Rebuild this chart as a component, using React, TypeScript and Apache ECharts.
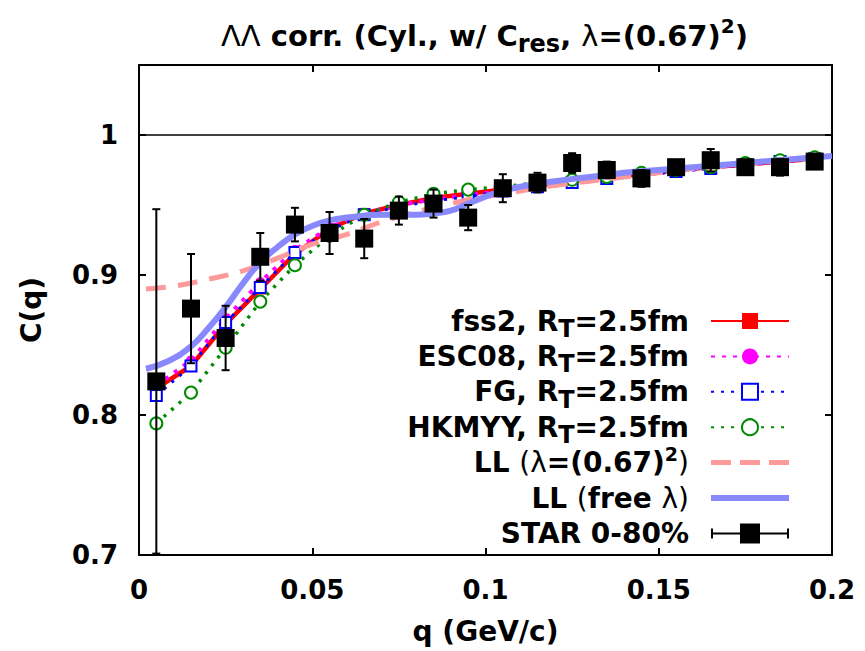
import React, { useEffect, useRef } from 'react';
import * as echarts from 'echarts';

const FONT = 'DejaVu Sans';

// q bin centres (GeV/c)
const qBins = [0.005, 0.015, 0.025, 0.035, 0.045, 0.055, 0.065, 0.075, 0.085, 0.095,
  0.105, 0.115, 0.125, 0.135, 0.145, 0.155, 0.165, 0.175, 0.185, 0.195];

// STAR 0-80% data
const starC = [0.824, 0.876, 0.855, 0.913, 0.936, 0.930, 0.926, 0.946, 0.951, 0.941,
  0.962, 0.966, 0.980, 0.975, 0.969, 0.977, 0.982, 0.977, 0.977, 0.981];
const starErr = [0.123, 0.039, 0.023, 0.017, 0.012, 0.015, 0.014, 0.010, 0.010, 0.009,
  0.010, 0.007, 0.007, 0.006, 0.006, 0.005, 0.008, 0.005, 0.006, 0.005];

// model curves (same q grid)
const fss2 = [0.819, 0.835, 0.865, 0.890, 0.915, 0.933, 0.944, 0.950, 0.955, 0.958,
  0.961, 0.964, 0.967, 0.970, 0.972, 0.975, 0.977, 0.979, 0.981, 0.983];
const esc08 = [0.821, 0.839, 0.869, 0.895, 0.918, 0.934, 0.944, 0.950, 0.954, 0.957,
  0.960, 0.963, 0.966, 0.969, 0.972, 0.974, 0.977, 0.979, 0.981, 0.983];
const fg = [0.814, 0.835, 0.866, 0.891, 0.916, 0.932, 0.943, 0.949, 0.953, 0.956,
  0.960, 0.963, 0.966, 0.969, 0.971, 0.974, 0.976, 0.979, 0.981, 0.983];
const hkmyy = [0.794, 0.816, 0.848, 0.881, 0.907, 0.928, 0.943, 0.952, 0.958, 0.961,
  0.963, 0.966, 0.968, 0.970, 0.973, 0.975, 0.977, 0.980, 0.982, 0.984];

// Lednicky-Lyuboshitz fits
const llQ = [0.002, 0.01, 0.02, 0.03, 0.04, 0.05, 0.06, 0.07, 0.08, 0.09, 0.1,
  0.11, 0.12, 0.13, 0.14, 0.15, 0.16, 0.17, 0.18, 0.19, 0.2];
const llFixed = [0.890, 0.892, 0.897, 0.903, 0.912, 0.922, 0.929, 0.938, 0.945, 0.951, 0.956,
  0.960, 0.964, 0.967, 0.970, 0.973, 0.976, 0.978, 0.980, 0.982, 0.984];
const llFreeQ = [0.002, 0.008, 0.015, 0.02, 0.025, 0.03, 0.035, 0.04, 0.045, 0.05, 0.055,
  0.06, 0.07, 0.08, 0.085, 0.09, 0.095, 0.1, 0.105, 0.11, 0.12, 0.13, 0.14, 0.15,
  0.16, 0.17, 0.18, 0.19, 0.2];
const llFree = [0.833, 0.838, 0.849, 0.862, 0.877, 0.894, 0.909, 0.920, 0.929, 0.935, 0.939,
  0.941, 0.943, 0.943, 0.944, 0.946, 0.951, 0.956, 0.960, 0.963, 0.967, 0.970, 0.973, 0.975,
  0.977, 0.979, 0.981, 0.983, 0.985];

const yTickLabels = [0.7, 0.8, 0.9, 1];
const unityLine = 1;

const seriesNames = [
  'fss2, RT=2.5fm',
  'ESC08, RT=2.5fm',
  'FG, RT=2.5fm',
  'HKMYY, RT=2.5fm',
  'LL (λ=(0.67)^2)',
  'LL (free λ)',
  'STAR 0-80%',
];
// every row carries one "p" token (transparent box) so that all rows get the same height
const legendRich = [
  '{p|f}ss2, R{T|T}=2.5fm',
  '{p|E}SC08, R{T|T}=2.5fm',
  '{p|F}G, R{T|T}=2.5fm',
  '{p|H}KMYY, R{T|T}=2.5fm',
  '{p|L}L {t|(λ}=(0.67){sup|2}{t|)}',
  '{p|L}L {t|(}free {t|λ)}',
  '{p|S}TAR 0-80%',
];

const zip = (xs: number[], ys: number[]) => xs.map((x, i) => [x, ys[i]]);

export default function App() {
  const ref = useRef<HTMLDivElement>(null);
  useEffect(() => {
    const chart = echarts.init(ref.current!, null, { renderer: 'svg' });
    const base = { fontFamily: FONT, fontWeight: 'bold' as const, color: '#000' };
    const legendIcons: Record<string, string> = {
      'LL (λ=(0.67)^2)': 'path://M0 0H20V5H0Z M29 0H49V5H29Z M58 0H78V5H58Z',
      'LL (free λ)': 'path://M0 0H78V6H0Z',
      'STAR 0-80%': 'path://M0 9H78V11H0Z M0 5H2V15H0Z M76 5H78V15H76Z M29 0H49V20H29Z',
    };
    const option: any = {
      animation: false,
      backgroundColor: '#fff',
      title: {
        left: 216,
        top: 14,
        text: '{g|ΛΛ} corr. (Cyl., w/ C{sub|res}, {g|λ}=(0.67){sup|2})',
        textStyle: {
          ...base, fontSize: 29, lineHeight: 34,
          rich: {
            g: { fontFamily: FONT, fontWeight: 'normal', fontSize: 29, lineHeight: 34, color: '#000' },
            sub: { ...base, fontSize: 24, lineHeight: 34, height: 4, padding: [16, 0, 0, 0] },
            sup: { ...base, fontSize: 20, lineHeight: 34, height: 4, padding: [0, 0, 20, 0] },
          },
        },
      },
      grid: { left: 139, right: 33, top: 65, bottom: 96 },
      legend: {
        orient: 'vertical',
        align: 'right',
        right: 75,
        top: 292,
        padding: 0,
        itemGap: -22.6,
        itemWidth: 78,
        itemHeight: 20,
        symbolKeepAspect: true,
        selectedMode: false,
        data: seriesNames.map((n) =>
          legendIcons[n]
            ? { name: n, icon: legendIcons[n], itemStyle: { borderWidth: 0 } }
            : { name: n }
        ),
        formatter: (name: string) => legendRich[seriesNames.indexOf(name)],
        textStyle: {
          ...base, fontSize: 28, padding: [0, 17, 0, 0],
          rich: {
            p: { ...base, fontSize: 28, padding: [15, 0, 15, 0], backgroundColor: 'rgba(255,255,255,0)' },
            T: { ...base, fontSize: 24, padding: [16, 0, 0, 0] },
            t: { fontFamily: FONT, fontWeight: 'normal', fontSize: 28, color: '#000' },
            sup: { ...base, fontSize: 19, padding: [2, 0, 20, 0] },
          },
        },
      },
      xAxis: [
        {
          type: 'value', min: 0, max: 0.2, interval: 0.05, position: 'bottom',
          name: 'q (GeV/c)', nameLocation: 'middle', nameGap: 62,
          nameTextStyle: { ...base, fontSize: 28 },
          axisLine: { onZero: false, lineStyle: { color: '#000', width: 2 } },
          axisTick: { inside: true, length: 7, lineStyle: { color: '#000', width: 2 } },
          axisLabel: { ...base, fontSize: 26, margin: 22 },
          splitLine: { show: false },
        },
        {
          type: 'value', min: 0, max: 0.2, interval: 0.05, position: 'top',
          axisLine: { onZero: false, lineStyle: { color: '#000', width: 2 } },
          axisTick: { inside: true, length: 7, lineStyle: { color: '#000', width: 2 } },
          axisLabel: { show: false },
          splitLine: { show: false },
        },
      ],
      yAxis: [
        {
          type: 'value', min: 0.7, max: 1.05, interval: 0.1, position: 'left',
          name: 'C(q)', nameLocation: 'middle', nameGap: 94,
          nameTextStyle: { ...base, fontSize: 28 },
          axisLine: { onZero: false, lineStyle: { color: '#000', width: 2 } },
          axisTick: { inside: true, length: 7, lineStyle: { color: '#000', width: 2 } },
          axisLabel: {
            ...base, fontSize: 26, margin: 21,
            formatter: (v: number) => {
              const r = Math.round(v * 100) / 100;
              return yTickLabels.includes(r) ? String(r) : '';
            },
          },
          splitLine: { show: false },
        },
        {
          type: 'value', min: 0.7, max: 1.05, interval: 0.1, position: 'right',
          axisLine: { onZero: false, lineStyle: { color: '#000', width: 2 } },
          axisTick: { inside: true, length: 7, lineStyle: { color: '#000', width: 2 } },
          axisLabel: { show: false },
          splitLine: { show: false },
        },
      ],
      series: [
        {
          name: seriesNames[0], type: 'line', data: zip(qBins, fss2), z: 3,
          symbol: 'rect', symbolSize: 11,
          lineStyle: { color: '#ff0000', width: 4.5 }, itemStyle: { color: '#ff0000' },
          markLine: {
            silent: true, symbol: 'none', label: { show: false },
            lineStyle: { color: '#000', width: 1.5, type: 'solid' },
            data: [{ yAxis: unityLine }],
          },
        },
        {
          name: seriesNames[1], type: 'line', data: zip(qBins, esc08), z: 4,
          symbol: 'circle', symbolSize: 10,
          lineStyle: { color: '#ff00ff', width: 4, type: [4, 7] }, itemStyle: { color: '#ff00ff' },
        },
        {
          name: seriesNames[2], type: 'line', data: zip(qBins, fg), z: 5,
          symbol: 'emptyRect', symbolSize: 11,
          lineStyle: { color: '#0000ff', width: 3, type: [3, 7] },
          itemStyle: { color: '#0000ff', borderWidth: 1.8 },
        },
        {
          name: seriesNames[3], type: 'line', data: zip(qBins, hkmyy), z: 6,
          symbol: 'emptyCircle', symbolSize: 12,
          lineStyle: { color: '#008a00', width: 3.5, type: [3, 7] },
          itemStyle: { color: '#008a00', borderWidth: 2.2 },
        },
        {
          name: seriesNames[4], type: 'line', data: zip(llQ, llFixed), z: 7,
          symbol: 'none', smooth: true,
          lineStyle: { color: '#ff9a9a', width: 5, type: [20, 12] }, itemStyle: { color: '#ff9a9a' },
        },
        {
          name: seriesNames[5], type: 'line', data: zip(llFreeQ, llFree), z: 8,
          symbol: 'none', smooth: true,
          lineStyle: { color: '#8888ff', width: 6 }, itemStyle: { color: '#8888ff' },
        },
        {
          name: 'STAR err', type: 'custom', z: 9, clip: true,
          data: qBins.map((q, i) => [q, starC[i], starErr[i]]),
          encode: { x: 0, y: 1 },
          renderItem: (params: any, api: any) => {
            const x = api.value(0), y = api.value(1), e = api.value(2);
            const t = api.coord([x, y + e]);
            const b = api.coord([x, y - e]);
            const c = 4;
            const st = { stroke: '#000', lineWidth: 2 };
            return {
              type: 'group',
              children: [
                { type: 'line', shape: { x1: t[0], y1: t[1], x2: b[0], y2: b[1] }, style: st },
                { type: 'line', shape: { x1: t[0] - c, y1: t[1], x2: t[0] + c, y2: t[1] }, style: st },
                { type: 'line', shape: { x1: b[0] - c, y1: b[1], x2: b[0] + c, y2: b[1] }, style: st },
              ],
            };
          },
        },
        {
          name: seriesNames[6], type: 'scatter', data: zip(qBins, starC), z: 10,
          symbol: 'rect', symbolSize: 18, itemStyle: { color: '#000', opacity: 1 },
        },
      ],
    };
    chart.setOption(option);
    return () => chart.dispose();
  }, []);
  return <div ref={ref} style={{ position: 'absolute', left: 0, top: 0, width: 865, height: 651 }} />;
}
